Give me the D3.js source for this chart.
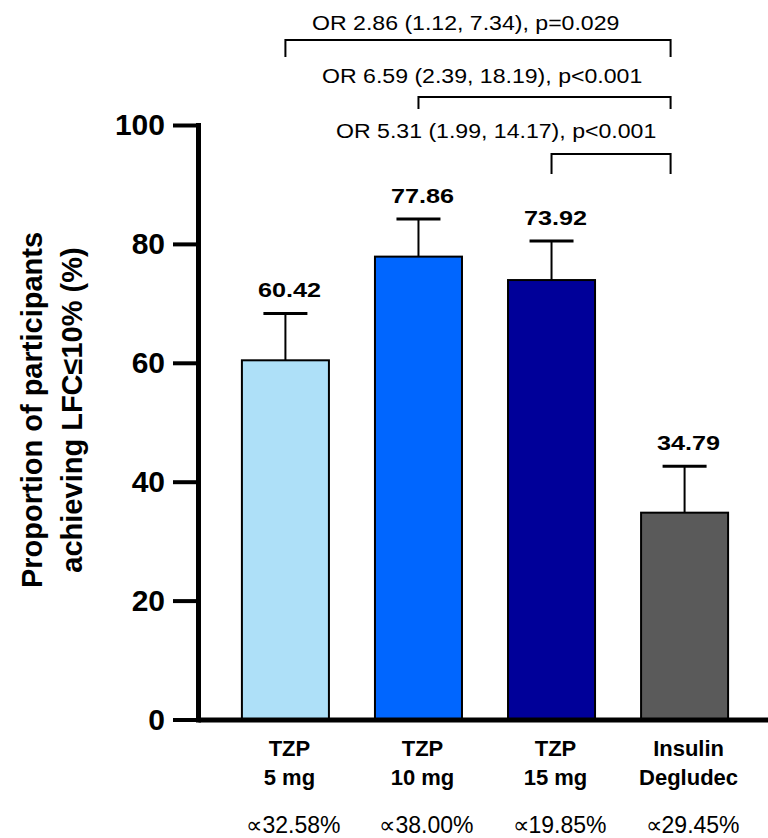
<!DOCTYPE html>
<html>
<head>
<meta charset="utf-8">
<script src="https://cdn.jsdelivr.net/npm/d3@7"></script>
<style>
  body { margin: 0; background: #fff; }
  svg { display: block; font-family: Arial, "Liberation Sans", sans-serif; }
</style>
</head>
<body>
<svg id="drawing_region"></svg>
<script>
// chart values
const categories = ["TZP 5 mg", "TZP 10 mg", "TZP 15 mg", "Insulin Degludec"];
const catLines = [["TZP", "5 mg"], ["TZP", "10 mg"], ["TZP", "15 mg"], ["Insulin", "Degludec"]];
const values = [60.42, 77.86, 73.92, 34.79];
const upper = [68.3, 84.2, 80.5, 42.6];
const subLabels = ["\u221D32.58%", "\u221D38.00%", "\u221D19.85%", "\u221D29.45%"];
const colors = ["#aee0f8", "#0066ff", "#000099", "#5a5a5a"];
const yTicks = [0, 20, 40, 60, 80, 100];
const bracketFrom = ["TZP 5 mg", "TZP 10 mg", "TZP 15 mg"];
const bracketTo = ["Insulin Degludec", "Insulin Degludec", "Insulin Degludec"];
const bracketText = [
    "OR 2.86 (1.12, 7.34), p=0.029",
    "OR 6.59 (2.39, 18.19), p<0.001",
    "OR 5.31 (1.99, 14.17), p<0.001"
];

const width = 768, height = 838;

const svg = d3.select("#drawing_region")
    .attr("width", width)
    .attr("height", height);

const x = d3.scaleBand()
    .domain(categories)
    .range([198, 772])
    .paddingInner(0.346)
    .paddingOuter(0.33);

const y = d3.scaleLinear()
    .domain([0, 100])
    .range([719.5, 125]);

const cx = c => x(c) + x.bandwidth() / 2;

// bars
svg.append("g").selectAll("rect")
    .data(values)
    .join("rect")
    .attr("x", (d, i) => x(categories[i]))
    .attr("y", d => y(d))
    .attr("width", x.bandwidth())
    .attr("height", d => y(0) - y(d))
    .attr("fill", (d, i) => colors[i])
    .attr("stroke", "#000")
    .attr("stroke-width", 2);

// error bars (upper only)
const err = svg.append("g").attr("stroke", "#000");
err.selectAll("line.v")
    .data(upper)
    .join("line")
    .attr("class", "v")
    .attr("x1", (d, i) => cx(categories[i]))
    .attr("x2", (d, i) => cx(categories[i]))
    .attr("y1", (d, i) => y(values[i]))
    .attr("y2", d => y(d))
    .attr("stroke-width", 2);
err.selectAll("line.cap")
    .data(upper)
    .join("line")
    .attr("class", "cap")
    .attr("x1", (d, i) => cx(categories[i]) - 22)
    .attr("x2", (d, i) => cx(categories[i]) + 22)
    .attr("y1", d => y(d))
    .attr("y2", d => y(d))
    .attr("stroke-width", 3);

// value labels
svg.append("g").selectAll("text")
    .data(values)
    .join("text")
    .attr("transform", (d, i) => `translate(${cx(categories[i]) + 4}, ${y(upper[i]) - 16}) scale(1.2,1)`)
    .attr("text-anchor", "middle")
    .attr("font-size", "21px")
    .attr("font-weight", "bold")
    .text(d => d.toFixed(2));

// y axis
const yAxis = d3.axisLeft(y)
    .tickValues(yTicks)
    .tickSize(25)
    .tickSizeOuter(0)
    .tickPadding(8);

const yg = svg.append("g")
    .attr("transform", "translate(198,0)")
    .call(yAxis);
yg.select(".domain").attr("stroke-width", 5).attr("stroke-linecap", "square");
yg.selectAll(".tick line").attr("stroke-width", 4);
yg.selectAll(".tick text")
    .attr("font-size", "30px")
    .attr("font-weight", "bold")
    .attr("font-family", "Arial, 'Liberation Sans', sans-serif")
    .attr("fill", "#000");

// x axis line
const xAxis = d3.axisBottom(x).tickSize(0).tickFormat("");
const xg = svg.append("g")
    .attr("transform", `translate(0, ${y(0)})`)
    .call(xAxis);
xg.select(".domain").attr("stroke-width", 5);

// category labels
const cl = svg.append("g")
    .attr("font-size", "22px")
    .attr("font-weight", "bold")
    .attr("text-anchor", "middle");
catLines.forEach((lines, i) => {
    lines.forEach((t, j) => {
        cl.append("text")
            .attr("x", cx(categories[i]) + 4)
            .attr("y", 756 + j * 29)
            .text(t);
    });
});

// percent labels under categories
svg.append("g").selectAll("text")
    .data(subLabels)
    .join("text")
    .attr("x", (d, i) => cx(categories[i]) + 8)
    .attr("y", 833)
    .attr("text-anchor", "middle")
    .attr("font-size", "23px")
    .text(d => d);

// y axis title
const yt = svg.append("text")
    .attr("transform", "translate(42, 410) rotate(-90)")
    .attr("text-anchor", "middle")
    .attr("font-size", "29px")
    .attr("font-weight", "bold");
yt.append("tspan").attr("x", 0).attr("dy", 0).text("Proportion of participants");
yt.append("tspan").attr("x", 0).attr("dy", 40).text("achieving LFC\u226410% (%)");

// comparison brackets
const bracketY = [40, 97, 154];
const bracketDrop = [17, 12, 20];
const textX = [312, 322, 336];
const textY = [30, 83, 138];
const bg = svg.append("g")
    .attr("fill", "none")
    .attr("stroke", "#000")
    .attr("stroke-width", 2);
bracketFrom.forEach((f, i) => {
    const x1 = cx(f), x2 = cx(bracketTo[i]) - 14;
    const yy = bracketY[i];
    bg.append("path")
        .attr("d", `M${x1},${yy + bracketDrop[i]}V${yy}H${x2}V${yy + bracketDrop[i]}`);
    svg.append("text")
        .attr("transform", `translate(${textX[i]}, ${textY[i]}) scale(1.1,1)`)
        .attr("font-size", "21px")
        .text(bracketText[i]);
});
</script>
</body>
</html>
